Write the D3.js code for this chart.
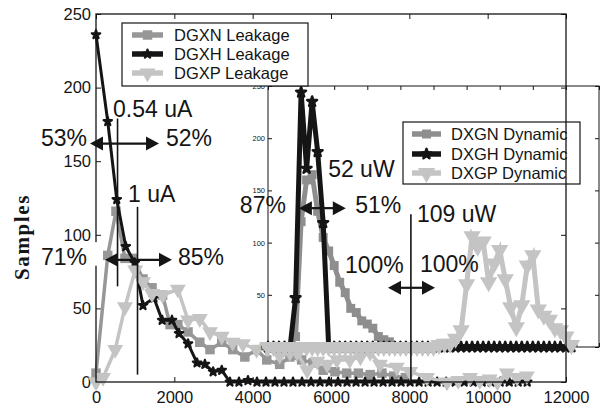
<!DOCTYPE html>
<html>
<head>
<meta charset="utf-8">
<script src="https://cdn.jsdelivr.net/npm/d3@7"></script>
<style>
body { margin: 0; background: #fff; }
svg { display: block; font-family: "Liberation Sans", Arial, sans-serif; }
</style>
</head>
<body>
<div id="chart"></div>
<script>
// leakage histograms (main plot), x in nA, y = samples
var dgxnLeak = [[0,6],[300,86],[510,116],[740,84],[950,84],[1200,70],[1430,64],[1700,59],[1890,39],[2090,39],
    [2350,34],[2650,27],[2910,22],[3210,27],[3490,22],[3800,17],[4100,22],[4360,15],[4690,12],[4950,17],
    [5250,15],[5540,13],[5800,8],[6100,7],[6400,6],[6700,6],[7000,5],[7300,6],[7600,4],[7900,3]];
var dgxhLeak = [[0,236],[300,177],[530,124],[760,92],[990,81],[1200,52],[1480,57],[1690,42],[1940,42],[2120,33],
    [2350,26],[2580,13],[2780,12],[2990,7],[3210,8],[3420,0],[3650,0],[3880,1],[4110,0],[4340,0],
    [4570,0],[4800,0],[5030,0],[5260,0],[5490,0],[5720,0],[5950,0],[6180,0],[6410,0],[6640,0],
    [6870,0],[7100,0],[7330,0],[7560,0],[7790,0],[8020,0],[8250,0],[8480,0],[8710,0],[8940,0],
    [9170,0],[9400,0],[9630,0],[9860,0],[10090,0],[10320,0],[10550,0],[10780,0],[11010,0]];
var dgxpLeak = [[0,0],[180,3],[490,22],[740,51],[1000,76],[1200,68],[1430,60],[1700,59],[2090,63],[2350,42],
    [2650,43],[2910,34],[3210,31],[3490,27],[3750,26],[4100,22],[4360,23],[4690,18],[4950,20],[5130,20],
    [5390,8],[5650,14],[5900,12],[6150,15],[6480,15],[6750,17],[7000,20],[7250,12],[7680,10],[8020,7],
    [8450,3],[8960,0],[9250,1],[9550,3],[9800,1],[10050,2],[10250,0],[10490,6],[10750,3],[11000,4]];

// dynamic histograms (inset), x = bin index, y = samples
var dxgnDyn = [[0,0],[1,0],[2,0],[3,0],[4,0],[5,10],[6,120],[7,160],[8,165],[9,130],[10,105],[11,92],[12,78],
    [13,62],[14,52],[15,37],[16,33],[17,25],[18,22],[19,18],[20,10],[21,7],[22,5],[23,0],[24,0],[25,0],
    [26,0],[27,0],[28,0],[29,0],[30,0],[31,0],[32,0],[33,0]];
var dxghDyn = [[0,0],[1,0],[2,0],[3,0],[4,0],[5,47],[6,244],[7,171],[8,235],[9,187],[10,119],[11,0],[12,0],
    [13,0],[14,0],[15,0],[16,0],[17,0],[18,0],[19,0],[20,0],[21,0],[22,0],[23,0],[24,0],[25,0],[26,0],
    [27,0],[28,0],[29,0],[30,0],[31,0],[32,0],[33,0],[34,0],[35,0],[36,0],[37,0],[38,0],[39,0],[40,0],
    [41,0],[42,0],[43,0],[44,0],[45,0],[46,0],[47,0],[48,0],[49,0],[50,0],[51,0],[52,0],[53,0],[54,0],[55,0]];
var dxgpDyn = [[0,0],[1,0],[2,0],[3,0],[4,0],[5,0],[6,0],[7,0],[8,0],[9,0],[10,0],[11,0],[12,0],[13,0],
    [14,0],[15,0],[16,0],[17,0],[18,0],[19,0],[20,0],[21,0],[22,0],[23,0],[24,0],[25,0],[26,0],[27,0],
    [28,0],[29,0],[30,0],[31,2],[32,3],[33,3],[34,8],[35,16],[36,60],[37,106],[38,96],[39,101],[40,62],
    [41,80],[42,93],[43,65],[44,38],[45,19],[46,40],[47,78],[48,88],[49,36],[50,30],[51,26],[52,18],
    [53,16],[54,10],[55,2]];

var leakNames = ["DGXN Leakage", "DGXH Leakage", "DGXP Leakage"];
var dynNames = ["DXGN Dynamic", "DXGH Dynamic", "DXGP Dynamic"];
var mainXTicks = [0, 2000, 4000, 6000, 8000, 10000, 12000];
var mainYTicks = [0, 50, 100, 150, 200, 250];
var insetXTicks = [0, 6, 12, 18, 24, 30, 36, 42, 48, 54, 60];
var insetYTicks = [0, 50, 100, 150, 200, 250];

var svgW = 605, svgH = 408;
var svg = d3.select("#chart").append("svg").attr("width", svgW).attr("height", svgH);

var x = d3.scaleLinear().domain([0, 12000]).range([96, 566]);
var y = d3.scaleLinear().domain([0, 250]).range([382, 14]);
var xi = d3.scaleLinear().domain([0, 60]).range([268, 599]);
var yi = d3.scaleLinear().domain([0, 250]).range([347, 86]);

var ink = "#151515";
var styles = [
    {color: "#979797", width: 3.5, symbol: d3.symbolSquare, size: 90, rot: false, sw: 0},
    {color: "#151515", width: 3, symbol: d3.symbolStar, size: 22, rot: false, sw: 2.2},
    {color: "#c4c4c4", width: 3.5, symbol: d3.symbolTriangle, size: 110, rot: true, sw: 0}
];
var insetStyles = [
    {color: "#8e8e8e", width: 5, symbol: d3.symbolSquare, size: 80, rot: false, sw: 0},
    {color: "#151515", width: 5, symbol: d3.symbolStar, size: 30, rot: false, sw: 2.5},
    {color: "#c4c4c4", width: 5, symbol: d3.symbolTriangle, size: 130, rot: true, sw: 0}
];

function styleAxis(g, fs) {
    g.select(".domain").remove();
    g.selectAll(".tick line").attr("stroke", ink).attr("stroke-width", 1);
    g.selectAll(".tick text").attr("fill", ink).style("font-size", fs + "px")
        .style("font-family", "'Liberation Sans', Arial, sans-serif");
}

function marker(sel, st) {
    sel.attr("d", d3.symbol().type(st.symbol).size(st.size))
        .attr("fill", st.color)
        .attr("stroke", st.sw ? st.color : "none")
        .attr("stroke-width", st.sw)
        .attr("stroke-linejoin", "round");
}

function drawSeries(g, data, xs, ys, st) {
    g.append("path")
        .datum(data)
        .attr("fill", "none")
        .attr("stroke", st.color)
        .attr("stroke-width", st.width)
        .attr("stroke-linejoin", "miter")
        .attr("d", d3.line().x(function(d) { return xs(d[0]); }).y(function(d) { return ys(d[1]); }));
    g.selectAll(null)
        .data(data)
        .enter()
        .append("path")
        .attr("transform", function(d) {
            return "translate(" + xs(d[0]) + "," + ys(d[1]) + ")" + (st.rot ? " rotate(180)" : "");
        })
        .call(marker, st);
}

// main axes (ticks point inward)
var gxB = svg.append("g").attr("transform", "translate(0,382)")
    .call(d3.axisBottom(x).tickValues(mainXTicks).tickSize(-5).tickPadding(9).tickFormat(d3.format("d")));
styleAxis(gxB, 16.5);
var gyL = svg.append("g").attr("transform", "translate(96,0)")
    .call(d3.axisLeft(y).tickValues(mainYTicks).tickSize(-5).tickPadding(5));
styleAxis(gyL, 16.5);
var gxT = svg.append("g").attr("transform", "translate(0,14)")
    .call(d3.axisTop(x).tickValues(mainXTicks).tickSize(-5).tickFormat(""));
styleAxis(gxT, 1);
var gyR = svg.append("g").attr("transform", "translate(566,0)")
    .call(d3.axisRight(y).tickValues(mainYTicks).tickSize(-5).tickFormat(""));
styleAxis(gyR, 1);

svg.append("text")
    .attr("transform", "translate(29,237) rotate(-90)")
    .attr("text-anchor", "middle")
    .style("font-family", "'Liberation Serif', 'Times New Roman', serif")
    .style("font-weight", "bold")
    .style("font-size", "21px")
    .style("letter-spacing", "1.6px")
    .attr("fill", ink)
    .text("Samples");

// main data
var mainG = svg.append("g");
[dgxnLeak, dgxhLeak, dgxpLeak].forEach(function(s, i) { drawSeries(mainG, s, x, y, styles[i]); });

// inset
var inset = svg.append("g");
var iyL = inset.append("g").attr("transform", "translate(268,0)")
    .call(d3.axisLeft(yi).tickValues(insetYTicks).tickSize(-4).tickPadding(3));
styleAxis(iyL, 7.5);
var iyR = inset.append("g").attr("transform", "translate(599,0)")
    .call(d3.axisRight(yi).tickValues(insetYTicks).tickSize(-4).tickFormat(""));
styleAxis(iyR, 1);
var ixT = inset.append("g").attr("transform", "translate(0,86)")
    .call(d3.axisTop(xi).tickValues(insetXTicks).tickSize(-4).tickFormat(""));
styleAxis(ixT, 1);
var ixB = inset.append("g").attr("transform", "translate(0,347)")
    .call(d3.axisBottom(xi).tickValues(insetXTicks).tickSize(-4).tickFormat(""));
styleAxis(ixB, 1);
inset.append("rect")
    .attr("x", xi(0)).attr("y", yi(250))
    .attr("width", xi(60) - xi(0)).attr("height", yi(0) - yi(250))
    .attr("fill", "none").attr("stroke", ink).attr("stroke-width", 1);
[dxgnDyn, dxghDyn, dxgpDyn].forEach(function(s, i) { drawSeries(inset, s, xi, yi, insetStyles[i]); });

function drawLegend(bx, by, bw, bh, names, sts, sx0, sx1, tx, rows) {
    var lg = svg.append("g");
    lg.append("rect").attr("x", bx).attr("y", by).attr("width", bw).attr("height", bh)
        .attr("fill", "#fff").attr("stroke", ink).attr("stroke-width", 1.2);
    names.forEach(function(n, i) {
        var st = sts[i], ry = rows[i];
        lg.append("line").attr("x1", sx0).attr("x2", sx1).attr("y1", ry).attr("y2", ry)
            .attr("stroke", st.color).attr("stroke-width", 5.5);
        lg.append("path")
            .attr("transform", "translate(" + ((sx0 + sx1) / 2) + "," + ry + ")" + (st.rot ? " rotate(180)" : ""))
            .call(marker, st);
        lg.append("text").attr("x", tx).attr("y", ry).attr("dy", "0.36em")
            .style("font-size", "16.5px").attr("fill", ink).text(n);
    });
}

drawLegend(403, 122, 177, 62, dynNames, insetStyles, 412, 441, 451, [134, 154, 173]);
drawLegend(122, 23, 186, 63, leakNames, styles, 132, 163, 174, [35, 54, 73]);

// main frame on top
svg.append("rect")
    .attr("x", x(0)).attr("y", y(250))
    .attr("width", x(12000) - x(0)).attr("height", y(0) - y(250))
    .attr("fill", "none").attr("stroke", ink).attr("stroke-width", 1.3);

// annotations
var ann = svg.append("g");

function vline(xs, ys, xv, y0, y1) {
    ann.append("line").attr("x1", xs(xv)).attr("x2", xs(xv)).attr("y1", ys(y0)).attr("y2", ys(y1))
        .attr("stroke", ink).attr("stroke-width", 1.6);
}

function dblArrow(xs, ys, xv0, xv1, yv) {
    var x0 = xs(xv0), x1 = xs(xv1), yy = ys(yv), hl = 13, hw = 7;
    ann.append("line").attr("x1", x0 + hl - 1).attr("x2", x1 - hl + 1).attr("y1", yy).attr("y2", yy)
        .attr("stroke", ink).attr("stroke-width", 2.2);
    ann.append("path").attr("d", "M" + x0 + "," + yy + "L" + (x0 + hl) + "," + (yy - hw) + "L" + (x0 + hl) + "," + (yy + hw) + "Z")
        .attr("fill", ink);
    ann.append("path").attr("d", "M" + x1 + "," + yy + "L" + (x1 - hl) + "," + (yy - hw) + "L" + (x1 - hl) + "," + (yy + hw) + "Z")
        .attr("fill", ink);
}

function label(xs, ys, xv, yv, t, anchor) {
    return ann.append("text").attr("x", xs(xv)).attr("y", ys(yv))
        .attr("text-anchor", anchor || "start")
        .style("font-size", "23px").attr("fill", ink).text(t);
}

// white patch behind "71%" (hides part of the left axis line)
ann.append("rect").attr("x", 36).attr("y", y(95)).attr("width", 64).attr("height", y(79) - y(95)).attr("fill", "#fff");

vline(x, y, 550, 65, 179);
vline(x, y, 1060, 5, 119);
vline(x, y, 8040, 0, 114);

dblArrow(x, y, -153, 1608, 162);
dblArrow(x, y, 230, 1940, 83);
dblArrow(x, y, 7455, 8655, 64);
dblArrow(xi, yi, 5.6, 14.1, 133);

label(x, y, 434, 180, "0.54 uA");
label(x, y, -230, 160, "53%", "end");
label(x, y, 1787, 160, "52%");
label(x, y, 817, 122, "1 uA");
label(x, y, -230, 79.5, "71%", "end");
label(x, y, 2094, 79.5, "85%");
label(x, y, 8196, 109, "109 uW");
label(x, y, 6355, 74, "100%");
label(x, y, 8272, 74.7, "100%");
label(xi, yi, -5.1, 128, "87%");
label(xi, yi, 15.8, 128, "51%");
label(xi, yi, 10.9, 163, "52 uW");
</script>
</body>
</html>
